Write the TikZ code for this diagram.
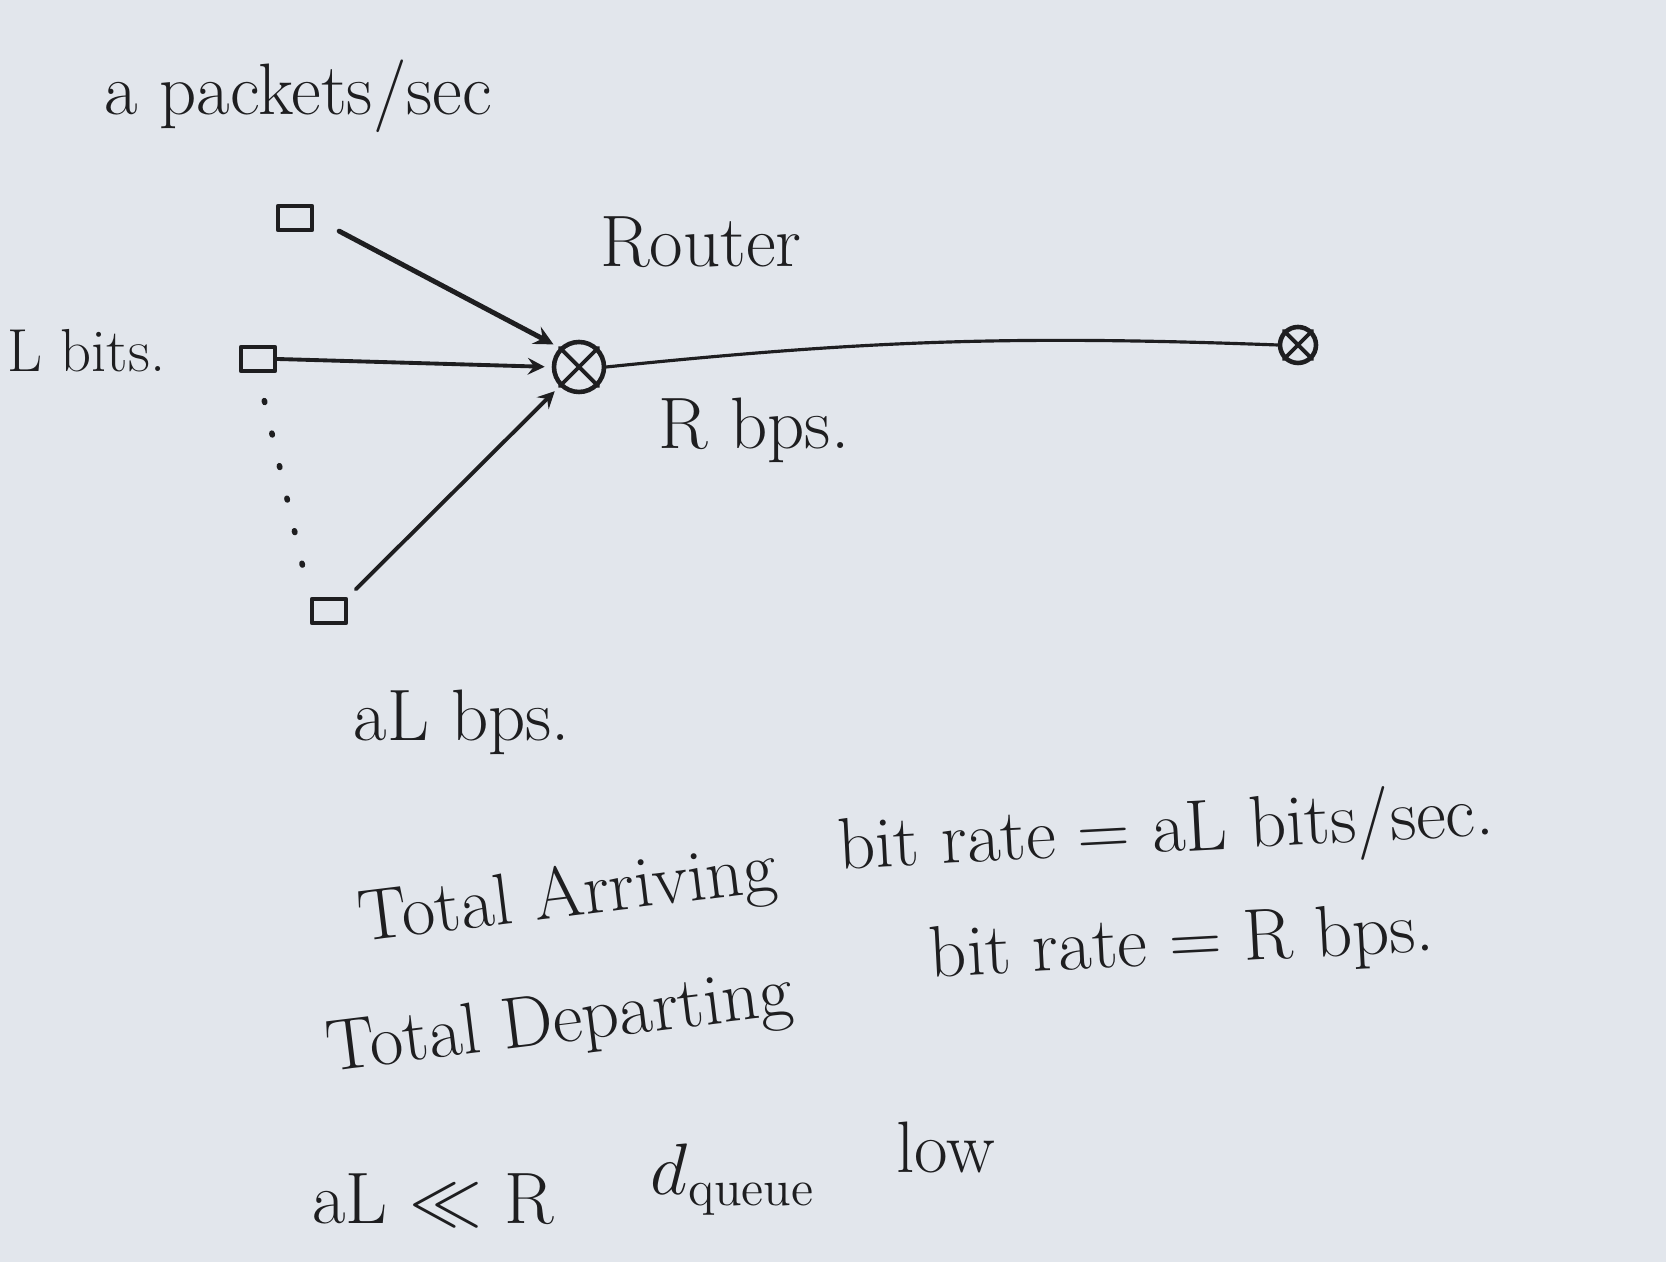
\documentclass[tikz,border=0pt]{standalone}
\usetikzlibrary{arrows.meta}
\definecolor{board}{RGB}{226,230,236}
\definecolor{ink}{RGB}{30,30,32}
\tikzset{
  pkt/.style={draw=ink,line width=1.3pt,minimum width=0.34cm,minimum height=0.24cm,inner sep=0pt},
  rtr/.style={draw=ink,line width=1.3pt,circle,inner sep=0pt},
  lbl/.style={text=ink,inner sep=1pt},
  feed/.style={->,draw=ink,line width=1.1pt,shorten >=2pt}
}
\begin{document}
\begin{tikzpicture}[line join=round, line cap=round,>=stealth,font=\huge,scale=1]
    \fill[board] (0,0) rectangle (16.66,12.62);
    \useasboundingbox (0,0) rectangle (16.66,12.62);
    % sources
    \node[pkt] (src1) at (2.95,10.44) {};
    \node[pkt] (src2) at (2.58,9.03) {};
    \node[pkt] (src3) at (3.29,6.51) {};
    % routers
    \node[rtr,minimum size=0.5cm] (rtr) at (5.79,8.95) {};
    \draw[ink,line width=1.1pt] (rtr.north east)--(rtr.south west) (rtr.north west)--(rtr.south east);
    \node[rtr,minimum size=0.36cm] (far) at (12.98,9.17) {};
    \draw[ink,line width=1.1pt] (far.north east)--(far.south west) (far.north west)--(far.south east);
    % links
    \draw[feed,line width=1.4pt,shorten <=8pt] (src1.east)--(rtr.north west);
    \draw[feed] (src2.east)--(rtr.west);
    \draw[feed,shorten <=3pt] (src3.north east)--(rtr.south west);
    \draw[ink,line width=1.6pt,dash pattern=on 0.5pt off 9pt,shorten <=8pt,shorten >=4pt] (src2.south)--(src3.north west);
    \draw[ink,line width=0.9pt] (rtr.east) to[bend left=4] (far.west);
    % labels
    \node[lbl] (rate) at (2.98,11.66) {a packets/sec};
    \node[lbl,anchor=west,font=\LARGE] (size) at (0.03,9.11) {L bits.};
    \node[lbl] (rname) at (7.01,10.20) {Router};
    \node[lbl] (cap) at (7.54,8.32) {R bps.};
    \node[lbl] (load) at (4.62,5.40) {aL bps.};
    \node[lbl,rotate=7] (arr) at (5.68,3.64) {Total Arriving};
    \node[lbl,rotate=3] (arrv) at (11.66,4.28) {bit rate = aL bits/sec.};
    \node[lbl,rotate=7] (dep) at (5.60,2.37) {Total Departing};
    \node[lbl,rotate=3] (depv) at (11.82,3.16) {bit rate = R bps.};
    \node[lbl] (cmp) at (4.33,0.62) {aL $\ll$ R};
    \node[lbl] (dq) at (7.33,0.82) {$d_{\mathrm{queue}}$};
    \node[lbl] (low) at (9.46,1.14) {low};
\end{tikzpicture}
\end{document}
